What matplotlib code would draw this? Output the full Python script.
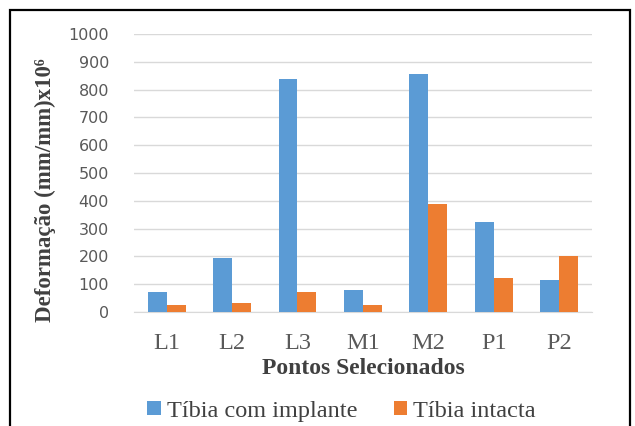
import matplotlib
matplotlib.use("Agg")
import matplotlib.pyplot as plt
from matplotlib.patches import Rectangle
import numpy as np

pontos = ['L1', 'L2', 'L3', 'M1', 'M2', 'P1', 'P2']
com_implante = [70, 195, 840, 78, 857, 322, 113]
intacta = [25, 33, 73, 25, 390, 122, 200]

azul = '#5B9BD5'
laranja = '#ED7D31'
serif = ['Liberation Serif', 'DejaVu Serif']

fig = plt.figure(figsize=(6.35, 4.26), dpi=100)
ax = fig.add_axes([0.211, 0.268, 0.721, 0.652])

x = np.arange(len(pontos))
w = 0.29
ax.bar(x - w / 2, com_implante, w, color=azul, label='Tíbia com implante', zorder=3)
ax.bar(x + w / 2, intacta, w, color=laranja, label='Tíbia intacta', zorder=3)

ax.set_xlim(-0.5, len(pontos) - 0.5)
ax.set_ylim(0, 1000)
ax.set_yticks(range(0, 1001, 100))
ax.yaxis.grid(True, color='#D9D9D9', linewidth=1, zorder=0)
for s in ['top', 'right', 'left']:
    ax.spines[s].set_visible(False)
ax.spines['bottom'].set_color('#D9D9D9')
ax.tick_params(axis='both', length=0)
ax.tick_params(axis='y', labelsize=11.5, labelcolor='#595959', pad=18)
ax.set_xticks(x)
ax.set_xticklabels(pontos, family=serif, fontsize=17.5, color='#595959')
ax.tick_params(axis='x', pad=15)

ax.set_xlabel('Pontos Selecionados', family=serif, fontsize=17, fontweight='bold',
              color='#404040', labelpad=3)
fig.text(0.071, 0.553, 'Deformação (mm/mm)x10⁶', family=serif, fontsize=16.5,
         fontweight='bold', color='#404040', rotation=90, ha='center', va='center')

leg = fig.legend(loc='center', bbox_to_anchor=(0.538, 0.035), ncol=2, frameon=False,
                 prop={'family': serif, 'size': 17.5}, handlelength=0.55, handleheight=0.55,
                 handletextpad=0.25, columnspacing=1.5)
for t in leg.get_texts():
    t.set_color('#404040')

fig.patches.append(Rectangle((10 / 635, -0.05), 620 / 635, 1.05 - 10 / 426,
                             transform=fig.transFigure, fill=False,
                             edgecolor='black', linewidth=1.6))

fig.savefig('out.png', dpi=100)
